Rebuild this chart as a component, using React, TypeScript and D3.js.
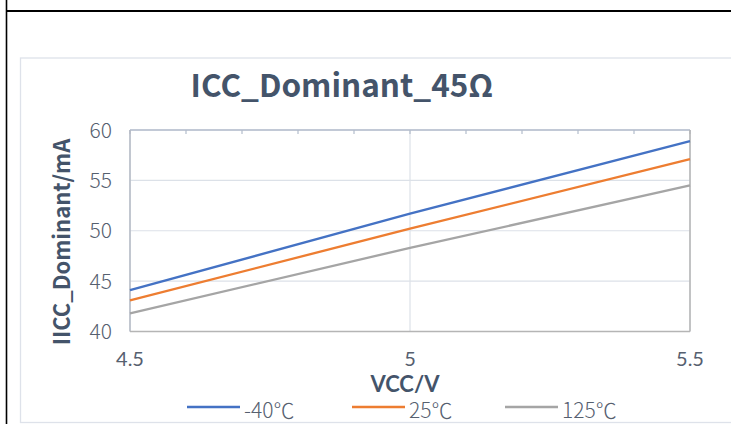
import React from "react";
import * as d3 from "d3";

const vccValues = [4.5, 5, 5.5];
const seriesNames = ["-40℃", "25℃", "125℃"];
const seriesColors = ["#4472C4", "#ED7D31", "#A5A5A5"];
const iccMinus40 = [44.1, 51.7, 58.9];
const icc25 = [43.1, 50.2, 57.1];
const icc125 = [41.8, 48.3, 54.5];
const yTicks = [40, 45, 50, 55, 60];
const xTicks = [4.5, 5, 5.5];
const topMinorTicks = d3.range(0, 11).map((i) => 4.5 + i * 0.1);

const seriesData = [iccMinus40, icc25, icc125];

const W = 731;
const H = 424;
const plot = { left: 130, right: 690, top: 130, bottom: 331.5 };

const FONT = "'Noto Sans CJK SC', 'Noto Sans', sans-serif";
const FONT2 = "Lato, 'Noto Sans', sans-serif";

export default function App() {
  const x = d3.scaleLinear().domain([4.5, 5.5]).range([plot.left, plot.right]);
  const y = d3.scaleLinear().domain([40, 60]).range([plot.bottom, plot.top]);
  const line = d3
    .line<number>()
    .x((_, i) => x(vccValues[i]))
    .y((d) => y(d));

  const legendX = [187, 352, 505];

  return (
    <div style={{ position: "fixed", left: 0, top: 0, width: W, height: H, background: "#fff" }}>
      <svg width={W} height={H} style={{ display: "block" }}>
        <rect x={0} y={0} width={W} height={H} fill="#ffffff" />
        {/* document frame */}
        <line x1={6.5} y1={0} x2={6.5} y2={H} stroke="#000" strokeWidth={1.6} />
        <line x1={6} y1={11} x2={W} y2={11} stroke="#000" strokeWidth={2} />
        {/* chart area border */}
        <rect x={20.5} y={58} width={W + 20} height={364.5} fill="#fff" stroke="#DEE2EA" strokeWidth={1.3} />

        {/* title */}
        <text x={342} y={97} textAnchor="middle" fontFamily={FONT} fontWeight={700} fontSize={31.5} fill="#44546A">
          ICC_Dominant_45Ω
        </text>

        {/* gridlines */}
        {yTicks.map((t) => (
          <line key={"gy" + t} x1={plot.left} x2={plot.right} y1={y(t)} y2={y(t)} stroke="#DCE1E8" strokeWidth={1.2} />
        ))}
        {xTicks.map((t) => (
          <line key={"gx" + t} x1={x(t)} x2={x(t)} y1={plot.top} y2={plot.bottom} stroke="#DCE1E8" strokeWidth={1.2} />
        ))}

        {/* top axis with ticks */}
        <line x1={plot.left} x2={plot.right} y1={plot.top} y2={plot.top} stroke="#B3BDCC" strokeWidth={1.5} />
        {topMinorTicks.map((t, i) => (
          <line key={"tt" + i} x1={x(t)} x2={x(t)} y1={plot.top} y2={plot.top + 4} stroke="#B3BDCC" strokeWidth={1.2} />
        ))}
        {/* left, right, bottom axes */}
        <line x1={plot.left} x2={plot.left} y1={plot.top} y2={plot.bottom} stroke="#B4BAC4" strokeWidth={1.5} />
        <line x1={plot.right} x2={plot.right} y1={plot.top} y2={plot.bottom} stroke="#B5B5B5" strokeWidth={1.5} />
        <line x1={plot.left} x2={plot.right} y1={plot.bottom} y2={plot.bottom} stroke="#B5B5B5" strokeWidth={1.5} />

        {/* series */}
        {seriesData.map((s, i) => (
          <path key={"s" + i} d={line(s) || ""} fill="none" stroke={seriesColors[i]} strokeWidth={2.3} />
        ))}

        {/* y tick labels */}
        {yTicks.map((t) => (
          <text key={"yl" + t} x={112} y={y(t) + 7.5} textAnchor="end" fontFamily={FONT} fontWeight={300} fontSize={21} fill="#56606F">
            {t}
          </text>
        ))}
        {/* x tick labels */}
        {xTicks.map((t) => (
          <text key={"xl" + t} x={x(t)} y={366} textAnchor="middle" fontFamily={FONT2} fontWeight={400} fontSize={20} fill="#56606F">
            {t}
          </text>
        ))}

        {/* axis titles */}
        <text x={405} y={392} textAnchor="middle" fontFamily={FONT2} fontWeight={700} fontSize={22} fill="#44546A">
          VCC/V
        </text>
        <text
          transform={`translate(70, 242) rotate(-90)`}
          textAnchor="middle"
          fontFamily={FONT}
          fontWeight={700}
          fontSize={22}
          fill="#44546A"
        >
          IICC_Dominant/mA
        </text>

        {/* legend */}
        {seriesNames.map((n, i) => (
          <g key={"lg" + i}>
            <line x1={legendX[i]} x2={legendX[i] + 53} y1={407} y2={407} stroke={seriesColors[i]} strokeWidth={2.3} />
            <text x={legendX[i] + 57} y={418} fontFamily={FONT} fontWeight={300} fontSize={21} fill="#56606F">
              {n}
            </text>
          </g>
        ))}
      </svg>
    </div>
  );
}
